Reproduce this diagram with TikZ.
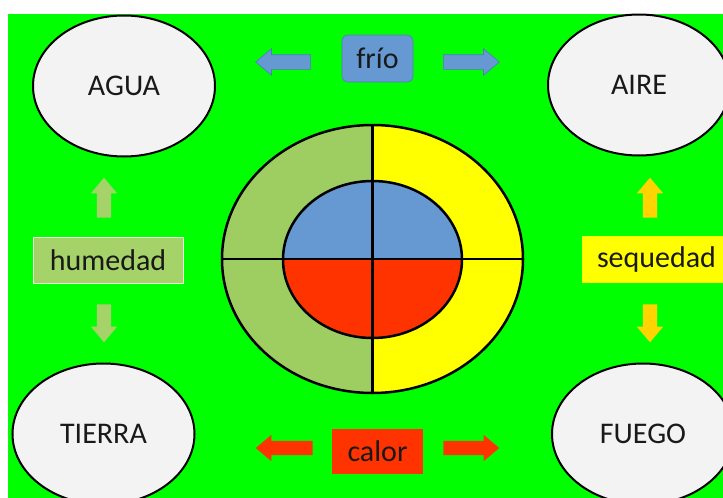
\documentclass[tikz,border=0pt]{standalone}
\usepackage{fontspec}
\setmainfont{Carlito}
\usetikzlibrary{shapes.geometric,shapes.arrows}
\definecolor{bggreen}{RGB}{0,255,0}
\definecolor{humgreen}{RGB}{165,210,105}
\definecolor{ringgreen}{RGB}{158,206,98}
\definecolor{friblue}{RGB}{102,153,210}
\definecolor{friedge}{RGB}{80,125,185}
\definecolor{calred}{RGB}{255,51,0}
\definecolor{seqyel}{RGB}{255,255,0}
\definecolor{arryel}{RGB}{255,212,0}
\definecolor{ellfill}{RGB}{243,243,243}
\definecolor{txt}{RGB}{25,25,25}
\begin{document}
\begin{tikzpicture}[x=1pt,y=-1pt,
  elem/.style={ellipse, draw=black, line width=2pt, fill=ellfill,
    minimum width=182pt, minimum height=141pt, inner sep=0pt,
    font=\fontsize{30}{32}\selectfont, text=txt},
  lbl/.style={inner sep=0pt, font=\fontsize{30}{32}\selectfont, text=txt,
    minimum height=46pt},
  barrow/.style={single arrow, single arrow head extend=6pt, inner sep=7pt,
    minimum width=26pt, single arrow tip angle=80},
  ringline/.style={draw=black, line width=2.5pt}
]
\useasboundingbox (0,0) rectangle (723,498);
\clip (0,0) rectangle (723,498);
\fill[white] (0,0) rectangle (723,498);
\fill[bggreen] (8,14) rectangle (723,498);

% corner elements
\node[elem] (agua) at (124,86) {AGUA};
\node[elem] (aire) at (639,85) {AIRE};
\node[elem] (tierra) at (103.5,434) {TIERRA};
\node[elem] (fuego) at (643,434) {FUEGO};

% labels
\node[lbl, fill=friblue, draw=friedge, line width=0.6pt, rounded corners=6pt,
  minimum width=71pt, minimum height=47pt] (frio) at (377.5,58.5) {frío};
\node[lbl, fill=humgreen, draw=white!80!humgreen, line width=1pt,
  minimum width=150pt] (humedad) at (108,260) {humedad};
\node[lbl, fill=seqyel, minimum width=149pt, minimum height=47pt] (sequedad) at (656.5,259.5) {sequedad};
\node[lbl, fill=calred, minimum width=91pt, minimum height=45pt] (calor) at (377.5,451.5) {calor};

% block arrows
\node[barrow, fill=friblue, draw=friedge, line width=0.6pt, minimum height=55pt, shape border rotate=180] (fl) at (287.5,62) {};
\node[barrow, fill=friblue, draw=friedge, line width=0.6pt, minimum height=56pt] (fr) at (467,62) {};
\node[barrow, fill=calred, minimum height=57pt, shape border rotate=180] (cl) at (288.5,448) {};
\node[barrow, fill=calred, minimum height=56pt] (cr) at (467,448) {};
\node[barrow, fill=humgreen, minimum height=40pt, shape border rotate=90] (hu) at (104,202) {};
\node[barrow, fill=humgreen, minimum height=38pt, shape border rotate=270] (hd) at (104,319) {};
\node[barrow, fill=arryel, minimum height=40pt, shape border rotate=90] (su) at (650,202) {};
\node[barrow, fill=arryel, minimum height=38pt, shape border rotate=270] (sd) at (650,319) {};

% central diagram
\node[ellipse, minimum width=301pt, minimum height=268pt, inner sep=0pt] (outer) at (372.5,259) {};
\node[ellipse, minimum width=179pt, minimum height=157pt, inner sep=0pt] (inner) at (372.5,259.5) {};
\begin{scope}
  \clip (200,100) rectangle (372.5,420);
  \fill[ringgreen] (outer.center) ellipse [x radius=150.5pt, y radius=134pt];
\end{scope}
\begin{scope}
  \clip (372.5,100) rectangle (540,420);
  \fill[seqyel] (outer.center) ellipse [x radius=150.5pt, y radius=134pt];
\end{scope}
\begin{scope}
  \clip (270,170) rectangle (480,259.5);
  \fill[friblue] (inner.center) ellipse [x radius=89.5pt, y radius=78.5pt];
\end{scope}
\begin{scope}
  \clip (270,259.5) rectangle (480,350);
  \fill[calred] (inner.center) ellipse [x radius=89.5pt, y radius=78.5pt];
\end{scope}
\draw[ringline] (outer.center) ellipse [x radius=150.5pt, y radius=134pt];
\draw[ringline] (inner.center) ellipse [x radius=89.5pt, y radius=78.5pt];
\draw[ringline] (outer.north) -- (outer.south);
\draw[ringline] (outer.west) -- (outer.east);
\end{tikzpicture}
\end{document}
